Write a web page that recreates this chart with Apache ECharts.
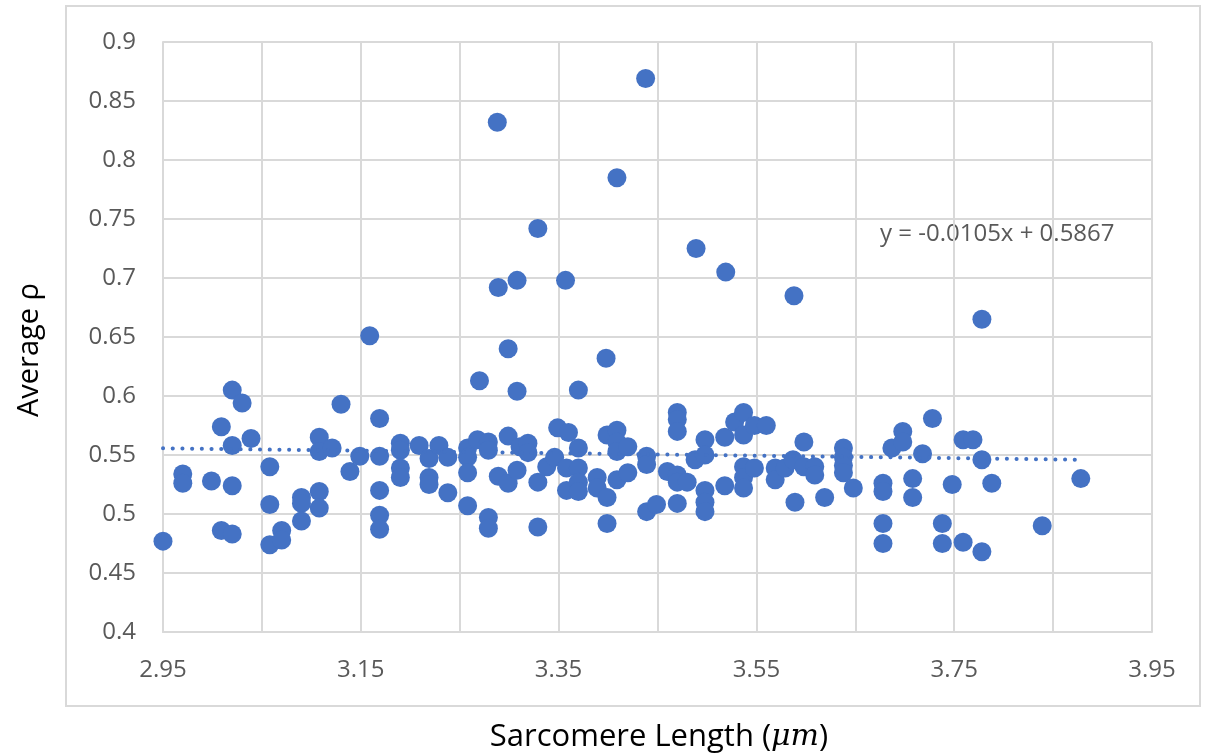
<!DOCTYPE html>
<html>
<head>
<meta charset="utf-8">
<script src="https://cdn.jsdelivr.net/npm/echarts@6/dist/echarts.min.js"></script>
<style>
html,body{margin:0;padding:0;background:#fff;}
#chart{width:1206px;height:755px;}
</style>
</head>
<body>
<div id="chart"></div>
<script>
// Sarcomere length (µm) of each point
const xValues = [
2.950,2.970,2.970,2.999,3.009,3.009,3.020,3.020,3.020,3.020,3.030,3.039,3.058,3.058,3.058,3.070,3.070,
3.090,3.090,3.090,3.108,3.108,3.108,3.108,3.121,3.130,3.139,
3.149,3.159,3.169,3.169,3.169,3.169,3.169,3.190,3.190,3.190,3.190,3.209,3.219,3.219,3.219,3.229,3.238,3.238,
3.258,3.258,3.258,3.258,3.268,3.270,3.279,3.279,3.279,3.279,3.288,3.289,3.289,3.299,3.299,3.299,
3.308,3.308,3.308,3.311,3.319,3.319,3.329,3.329,3.329,
3.338,3.346,3.349,3.357,3.358,3.358,3.360,3.370,3.370,3.370,3.370,3.370,3.389,3.389,
3.398,3.399,3.399,3.399,3.409,3.409,3.409,3.409,3.409,3.420,3.420,3.438,3.439,3.439,3.439,3.449,3.460,
3.470,3.470,3.470,3.470,3.470,3.470,3.480,3.488,3.489,3.498,3.498,3.498,3.498,3.498,
3.518,3.518,3.519,3.528,3.537,3.537,3.537,3.537,3.537,
3.548,3.548,3.560,3.569,3.569,3.579,3.587,3.588,3.589,3.598,3.598,3.609,3.609,3.619,
3.638,3.638,3.638,3.638,3.648,3.678,3.678,3.678,3.678,3.687,3.698,3.698,3.708,3.708,3.718,3.728,3.738,3.738,
3.748,3.759,3.759,3.769,3.778,3.778,3.778,3.788,3.839,3.878
];
// Average rho of each point
const yValues = [
0.477,0.534,0.526,0.528,0.574,0.486,0.605,0.558,0.524,0.483,0.594,0.564,0.540,0.508,0.474,0.486,0.478,
0.514,0.509,0.494,0.565,0.553,0.519,0.505,0.556,0.593,0.536,
0.549,0.651,0.581,0.549,0.520,0.499,0.487,0.560,0.554,0.539,0.531,0.558,0.547,0.531,0.525,0.558,0.548,0.518,
0.556,0.548,0.535,0.507,0.563,0.613,0.561,0.554,0.497,0.488,0.832,0.692,0.532,0.640,0.566,0.526,
0.698,0.604,0.537,0.557,0.560,0.552,0.742,0.527,0.489,
0.540,0.548,0.573,0.698,0.539,0.520,0.569,0.605,0.556,0.539,0.527,0.519,0.531,0.522,
0.632,0.567,0.514,0.492,0.785,0.571,0.561,0.553,0.529,0.557,0.535,0.869,0.549,0.542,0.502,0.508,0.536,
0.586,0.580,0.570,0.533,0.527,0.509,0.527,0.546,0.725,0.563,0.550,0.520,0.510,0.502,
0.565,0.524,0.705,0.578,0.586,0.567,0.540,0.531,0.522,
0.575,0.539,0.575,0.539,0.529,0.539,0.546,0.685,0.510,0.561,0.540,0.540,0.533,0.514,
0.556,0.548,0.541,0.535,0.522,0.526,0.519,0.492,0.475,0.556,0.570,0.561,0.530,0.514,0.551,0.581,0.492,0.475,
0.525,0.563,0.476,0.563,0.665,0.546,0.468,0.526,0.490,0.530
];
// Linear trendline end points (y = -0.0105x + 0.5867)
const trendX = [2.95, 3.878];
const trendY = [0.5557, 0.5460];
const trendLabel = 'y = -0.0105x + 0.5867';
const xTitle = 'Sarcomere Length (';
const xTitleUnit = 'μm';
const yTitle = 'Average ρ';

const points = xValues.map((x, i) => [x, yValues[i]]);
const trend = trendX.map((x, i) => [x, trendY[i]]);

const FONT = 'Open Sans';
const chart = echarts.init(document.getElementById('chart'), null, {renderer: 'canvas'});
chart.setOption({
  animation: false,
  backgroundColor: '#ffffff',
  grid: {left: 163, top: 42, width: 989, height: 590, containLabel: false},
  xAxis: {
    type: 'value', min: 2.95, max: 3.95, interval: 0.1,
    axisLine: {show: true, lineStyle: {color: '#d9d9d9', width: 2}},
    axisTick: {show: false},
    splitLine: {show: true, lineStyle: {color: '#d9d9d9', width: 2}},
    axisLabel: {
      color: '#595959', fontFamily: FONT, fontSize: 24, margin: 26,
      formatter: v => { const i = Math.round((v - 2.95) / 0.1); return i % 2 === 0 ? v.toFixed(2) : ''; }
    }
  },
  yAxis: {
    type: 'value', min: 0.4, max: 0.9, interval: 0.05,
    axisLine: {show: true, lineStyle: {color: '#d9d9d9', width: 2}},
    axisTick: {show: false},
    splitLine: {show: true, lineStyle: {color: '#d9d9d9', width: 2}},
    axisLabel: {
      color: '#595959', fontFamily: FONT, fontSize: 24, margin: 27,
      formatter: v => String(+v.toFixed(2))
    }
  },
  series: [
    {
      type: 'scatter', data: points, symbol: 'circle', symbolSize: 19,
      itemStyle: {color: '#4472C4', opacity: 1}, z: 2
    },
    {
      type: 'line', data: trend, showSymbol: false, symbol: 'none', z: 3,
      lineStyle: {color: '#4472C4', width: 4, type: [0.1, 9.6], cap: 'round'}
    }
  ],
  graphic: [
    {type: 'rect', silent: true, z: -10, shape: {x: 66, y: 6, width: 1134, height: 700},
     style: {fill: null, stroke: '#d9d9d9', lineWidth: 2}},
    {type: 'text', x: 880, y: 234, silent: true,
     style: {text: trendLabel, fill: '#595959', font: '24px "Open Sans"', textVerticalAlign: 'middle'}},
    {type: 'text', x: 659, y: 737, silent: true,
     style: {
       text: '{a|' + xTitle + '}{u|' + xTitleUnit + '}{a|)}',
       textAlign: 'center', textVerticalAlign: 'middle',
       rich: {
         a: {fontFamily: FONT, fontSize: 31, fill: '#000000'},
         u: {fontFamily: 'DejaVu Serif', fontStyle: 'italic', fontSize: 30, fill: '#000000'}
       }
     }},
    {type: 'text', x: 30, y: 350, rotation: Math.PI / 2, silent: true,
     style: {text: yTitle, fill: '#000000', font: '29px "Open Sans"', textAlign: 'center', textVerticalAlign: 'middle'}}
  ]
});
</script>
</body>
</html>
